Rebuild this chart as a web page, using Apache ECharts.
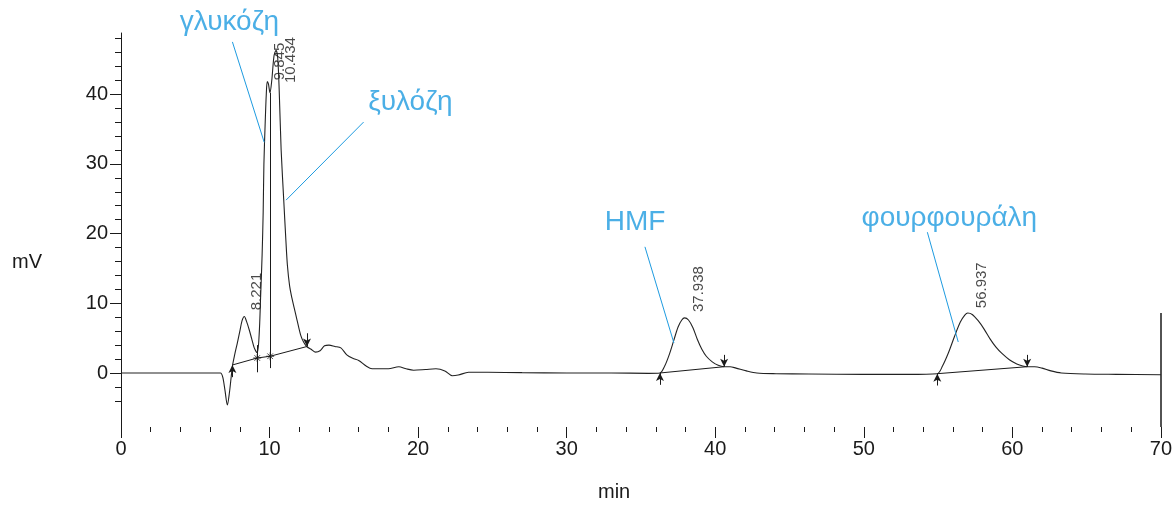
<!DOCTYPE html>
<html>
<head>
<meta charset="utf-8">
<script src="https://cdn.jsdelivr.net/npm/echarts@6/dist/echarts.min.js"></script>
<style>
  html, body { margin: 0; padding: 0; background: #fff; }
</style>
</head>
<body>
<div id="main" style="width:1175px;height:510px;"></div>
<script type="text/javascript">
// χρωματογράφημα: χρόνος (min) και σήμα (mV)
var timeMin = [0, 2, 4, 6, 6.7, 6.85, 7.0, 7.16, 7.3, 7.42, 7.5, 7.65, 7.83, 8.0, 8.15, 8.3, 8.45, 8.63, 8.8, 8.97,
  9.17, 9.3, 9.4, 9.5, 9.57, 9.62, 9.7, 9.78, 9.845, 9.92, 10.03, 10.15, 10.3, 10.434, 10.55, 10.65, 10.78, 10.95,
  11.1, 11.2, 11.35, 11.5, 11.65, 11.85, 12.1, 12.3, 12.5, 12.8, 13.1, 13.4, 13.7, 14.0, 14.4, 14.8, 15.2, 15.6, 16.0,
  16.5, 16.9, 17.5, 18.0, 18.7, 19.2, 19.7, 20.5, 21.2, 21.8, 22.3, 22.7, 23.4, 24.7, 27, 30, 33, 35.5,
  36.28, 36.6, 36.9, 37.2, 37.5, 37.75, 37.938, 38.2, 38.5, 38.8, 39.1, 39.4, 39.8, 40.2, 40.6, 41.0, 41.4, 42.1, 42.8, 44.1, 46.3,
  50, 53, 54.95, 55.3, 55.7, 56.1, 56.5, 56.8, 57.0, 57.3, 57.7, 58.1, 58.5, 58.9, 59.3, 59.8, 60.3, 60.7, 61.0, 61.5, 62.0, 62.6, 63.3, 64.9, 67, 70];
var signalMv = [0, 0, 0, 0, 0, -0.6, -2.5, -4.6, -2.8, -0.5, 1.0, 2.6, 4.3, 6.0, 7.5, 8.1, 7.4, 6.2, 4.9, 3.6,
  2.9, 5.5, 11, 17, 23, 30, 35.5, 40, 41.8, 41.5, 40.2, 42, 45.5, 46.3, 45.2, 40.5, 32, 25,
  19, 15.5, 12.5, 10.8, 9.4, 7.6, 5.4, 4.4, 3.8, 3.4, 3.0, 3.2, 3.9, 4.0, 3.8, 3.6, 2.6, 2.1, 1.8,
  1.0, 0.6, 0.6, 0.6, 0.9, 0.6, 0.4, 0.5, 0.6, 0.3, -0.4, -0.3, 0.1, 0.1, 0.05, 0, 0, -0.05,
  0, 1.0, 2.6, 4.6, 6.6, 7.6, 7.9, 7.6, 6.5, 4.8, 3.4, 2.4, 1.6, 1.1, 0.9, 0.9, 0.7, 0.3, 0, -0.1, -0.15,
  -0.2, -0.2, -0.1, 1.0, 2.9, 5.2, 7.3, 8.3, 8.6, 8.4, 7.5, 6.3, 4.9, 3.7, 2.8, 1.9, 1.3, 1.0, 0.9, 0.9, 0.7, 0.3, 0, -0.15, -0.2, -0.25];

// γραμμές βάσης ολοκλήρωσης
var sugarBase = [[7.5, 1.15], [9.17, 2.15], [10.04, 2.4], [12.52, 3.8]];
var hmfBase = [[36.28, 0], [40.6, 0.9]];
var furBase = [[54.95, -0.1], [61.0, 0.9]];
var baseStars = [[9.17, 2.15], [10.04, 2.4]];

// βέλη αρχής / τέλους κορυφής: [t, από, προς]
var upArrows = [[7.5, -0.6, 1.15], [36.28, -1.7, 0], [54.95, -1.8, -0.1]];
var downArrows = [[12.52, 5.7, 3.8], [40.6, 2.6, 0.9], [61.0, 2.6, 0.9]];
var dropLines = [[9.17, 4.0, 0.1], [10.04, 40.2, 0.7]];
var endLine = [70, 8.6, -7.75];

// χρόνοι κατακράτησης
var rtNames = ['8.221', '9.845', '10.434', '37.938', '56.937'];
var rtT = [9.17, 10.71, 11.45, 38.9, 57.96];
var rtV = [9.0, 42.0, 41.6, 8.75, 9.3];

// ονόματα ενώσεων
var annNames = ['γλυκόζη', 'ξυλόζη', 'HMF', 'φουρφουράλη'];
var annT = [7.3, 19.48, 34.6, 55.76];
var annV = [50.3, 38.9, 21.6, 22.2];
var leaderFrom = [[7.5, 47.5], [16.33, 36.0], [35.27, 18.1], [54.28, 20.2]];
var leaderTo = [[9.64, 33.1], [11.11, 24.8], [37.22, 4.3], [56.36, 4.45]];

var yMinorTicks = [-4, -2, 2, 4, 6, 8, 12, 14, 16, 18, 22, 24, 26, 28, 32, 34, 36, 38, 42, 44, 46, 48];
var yMajorTicks = [0, 10, 20, 30, 40];

var ink = '#1a1a1a';
var blue = '#1E9BE0';
var font = 'Liberation Sans, Arial, sans-serif';

var curve = timeMin.map(function (t, i) { return [t, signalMv[i]]; });

function seg(list) {
  return list.map(function (a) {
    return [{ coord: [a[0], a[1]] }, { coord: [a[0], a[2]] }];
  });
}

var chart = echarts.init(document.getElementById('main'));
var option = {
  animation: false,
  backgroundColor: '#fff',
  grid: { left: 121, right: 8, top: 33, bottom: 83, containLabel: false },
  xAxis: {
    type: 'value', min: 0, max: 70, interval: 10,
    axisLine: { show: false, onZero: false },
    axisTick: { show: true, length: 11, lineStyle: { color: ink } },
    minorTick: { show: true, splitNumber: 5, length: 5, lineStyle: { color: ink } },
    splitLine: { show: false },
    axisLabel: { margin: 12, color: ink, fontSize: 20, fontFamily: font }
  },
  yAxis: [{
    type: 'value', min: -7.75, max: 48.78,
    axisLine: { show: true, onZero: false, lineStyle: { color: ink, width: 1 } },
    axisTick: { show: true, length: 6, customValues: yMinorTicks, lineStyle: { color: ink } },
    splitLine: { show: false },
    axisLabel: { customValues: yMajorTicks, margin: 13, color: ink, fontSize: 20, fontFamily: font }
  }, {
    type: 'value', min: -7.75, max: 48.78, position: 'left',
    axisLine: { show: false, onZero: false },
    axisTick: { show: true, length: 11, customValues: yMajorTicks, lineStyle: { color: ink } },
    splitLine: { show: false },
    axisLabel: { show: false }
  }],
  graphic: [
    { type: 'text', left: 12, top: 252, style: { text: 'mV', font: '20px ' + font, fill: ink } },
    { type: 'text', left: 598, top: 482, style: { text: 'min', font: '20px ' + font, fill: ink } }
  ],
  series: [{
    name: 'signal', type: 'line', data: curve, showSymbol: false,
    smooth: 0.3,
    lineStyle: { color: '#222', width: 1.1 }, silent: true,
    markLine: {
      silent: true, symbol: ['none', 'none'], label: { show: false },
      lineStyle: { color: ink, width: 1, type: 'solid' },
      data: seg(dropLines)
    }
  }, {
    name: 'base', type: 'line', showSymbol: false, silent: true, clip: false,
    data: sugarBase.concat(['-']).concat(hmfBase).concat(['-']).concat(furBase),
    connectNulls: false,
    lineStyle: { color: ink, width: 1 },
    markLine: {
      silent: true, symbol: ['none', 'arrow'], symbolSize: [6, 8], label: { show: false },
      lineStyle: { color: ink, width: 1, type: 'solid' },
      data: seg(upArrows).concat(seg(downArrows))
    }
  }, {
    name: 'edge', type: 'line', data: [[70, 0]], showSymbol: false, silent: true, clip: false,
    lineStyle: { width: 0 },
    markLine: {
      silent: true, symbol: ['none', 'none'], label: { show: false },
      lineStyle: { color: ink, width: 1.5, type: 'solid' },
      data: seg([endLine])
    }
  }, {
    name: 'stars', type: 'scatter', data: baseStars, silent: true,
    symbol: 'path://M0,5L10,5M5,0L5,10M1.5,1.5L8.5,8.5M8.5,1.5L1.5,8.5', symbolSize: 8,
    itemStyle: { color: 'none', borderColor: ink, borderWidth: 1 }
  }, {
    name: 'rt', type: 'scatter', symbolSize: 0, silent: true, clip: false,
    data: rtNames.map(function (n, i) { return { name: n, value: [rtT[i], rtV[i]] }; }),
    label: {
      show: true, position: 'inside', rotate: 90, align: 'left', verticalAlign: 'middle',
      formatter: '{b}', color: ink, fontSize: 15, fontFamily: font
    }
  }, {
    name: 'ann', type: 'scatter', symbolSize: 0, silent: true, clip: false,
    data: annNames.map(function (n, i) { return { name: n, value: [annT[i], annV[i]] }; }),
    label: {
      show: true, position: 'inside', align: 'center', verticalAlign: 'middle',
      formatter: '{b}', color: blue, fontSize: 28, fontFamily: font
    },
    markLine: {
      silent: true, symbol: ['none', 'none'], label: { show: false },
      lineStyle: { color: blue, width: 1, type: 'solid' },
      data: leaderFrom.map(function (p, i) { return [{ coord: p }, { coord: leaderTo[i] }]; })
    }
  }]
};
chart.setOption(option);
</script>
</body>
</html>
